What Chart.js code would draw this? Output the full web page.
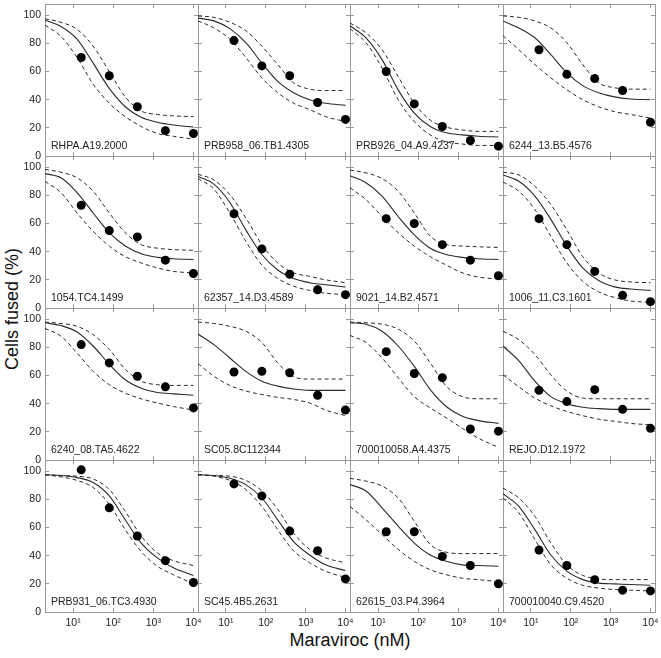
<!DOCTYPE html>
<html>
<head>
<meta charset="utf-8">
<script src="https://cdn.jsdelivr.net/npm/chart.js@4.4.0/dist/chart.umd.min.js"></script>
<style>
    body { margin: 0; background: #fff; }
    #wrap { position: relative; width: 661px; height: 658px; overflow: hidden; background: #fff;
            font-family: 'Liberation Sans', Arial, sans-serif; }
    #wrap canvas { position: absolute; }
    .axis-title { position: absolute; font-size: 18px; color: #111; white-space: nowrap; line-height: 1; }
    #ytitle { left: 12px; top: 309px; transform: translate(-50%, -50%) rotate(-90deg); }
    #xtitle { left: 350px; top: 640px; transform: translate(-50%, -50%); }
</style>
</head>
<body>
<div id="wrap">
    <div class="axis-title" id="ytitle">Cells fused (%)</div>
    <div class="axis-title" id="xtitle">Maraviroc (nM)</div>
</div>
<script>
// doses tested (nM) and the x positions the fitted curves were read at
const doses = [16, 80, 400, 2000, 10000]
const curveX = [2, 5, 12.6, 31.7, 80, 200, 500, 1260, 3170, 10000]

const xTicks = [10, 100, 1000, 10000]
const xTickLabels = ['10\u00b9', '10\u00b2', '10\u00b3', '10\u2074']
const yTicks = [0, 20, 40, 60, 80, 100]

const panelNames = [
    'RHPA.A19.2000', 'PRB958_06.TB1.4305', 'PRB926_04.A9.4237', '6244_13.B5.4576',
    '1054.TC4.1499', '62357_14.D3.4589', '9021_14.B2.4571', '1006_11.C3.1601',
    '6240_08.TA5.4622', 'SC05.8C112344', '700010058.A4.4375', 'REJO.D12.1972',
    'PRB931_06.TC3.4930', 'SC45.4B5.2631', '62615_03.P4.3964', '700010040.C9.4520'
]

// measured % cells fused at each dose
const observed = [
    [70, 57, 35, 18, 16],
    [82, 64, 57, 38, 26],
    [60, 37, 21, 11, 7],
    [75.5, 58, 55, 46.5, 24],
    [73, 55, 50.5, 34, 24.5],
    [67, 42, 24, 13, 9.5],
    [63.5, 60, 45, 34, 23],
    [63.5, 45, 26, 9, 4.5],
    [82, 69, 59.5, 52, 37],
    [62.5, 63, 62, 46, 35.5],
    [77, 61.5, 58.5, 22, 20.5],
    [49.5, 41.5, 50, 36, 22.5],
    [101, 74, 54, 36.5, 21],
    [91, 82.5, 57.5, 43.5, 23.5],
    [57, 57, 39.5, 33, 20],
    [44, 33, 23, 15.5, 15]
]

// fitted curve (solid)
const fitMid = [
    [96.5, 92, 83, 66, 48, 35, 27.5, 24, 22, 20.5],
    [98, 96, 90.5, 80.5, 66, 53, 45, 40, 37.5, 36],
    [92.5, 84, 68.5, 47, 30.5, 21, 16.5, 15, 14, 13.5],
    [96, 91, 84, 72, 59, 50, 45, 42, 40.5, 40],
    [95.5, 92.5, 82, 67.5, 53.5, 44, 38.5, 36, 35, 34.5],
    [93.5, 88, 75, 55.5, 38, 27, 21, 18, 16.5, 15],
    [94, 89, 79.5, 65, 52, 42.5, 38, 36, 35, 34.5],
    [94.5, 90, 79.5, 63, 44, 28.5, 19.5, 15, 13.5, 12.5],
    [97.5, 95.5, 91, 81, 68, 57, 51, 48, 47, 46],
    [89.5, 82, 72.5, 63, 56, 52.5, 50.5, 49.5, 49.5, 49.5],
    [97.5, 96.5, 91.5, 81, 66.5, 50, 38, 31, 28, 26],
    [81, 70.5, 56, 45, 40, 37.5, 36.5, 36, 36, 36],
    [97.5, 97, 95.5, 92, 82.5, 65.5, 49, 38.5, 31.5, 26],
    [97.5, 97, 95, 90.5, 81, 65.5, 50, 40.5, 33.5, 29.5],
    [90.5, 86, 74, 61, 49, 40.5, 36, 33.5, 33, 32.5],
    [84, 75, 58.5, 40.5, 29, 23, 20.5, 20, 19.5, 19]
]

// upper confidence band (dashed)
const fitUpper = [
    [97.5, 95, 90, 78, 60, 42, 32, 29.5, 28.5, 28],
    [99.5, 98.5, 95, 89, 78, 65, 52, 47.5, 46.5, 46.5],
    [94.5, 87.5, 75.5, 56.5, 37.5, 25.5, 20.5, 18.5, 17.5, 17.5],
    [99.5, 98.5, 96, 91, 80.5, 65, 52, 48.5, 47.5, 47.5],
    [98.5, 96.5, 92.5, 83, 67.5, 53.5, 45, 42.5, 41.5, 41],
    [95, 91, 80.5, 64, 45, 32, 25, 22.5, 20, 18],
    [98, 96, 92, 83, 67.5, 51, 45, 44, 43.5, 43],
    [96.5, 94.5, 86.5, 73.5, 55.5, 36.5, 25, 20, 18.5, 18],
    [98, 97, 95, 89, 78.5, 64.5, 56, 53.5, 53, 53],
    [98, 97, 95, 91.5, 83.5, 69, 59, 57.5, 57.5, 57.5],
    [98, 97.5, 96.5, 93, 84.5, 69, 52.5, 45, 43.5, 43.5],
    [91.5, 85.5, 75, 60.5, 49, 44, 43.5, 43.5, 43.5, 43.5],
    [97.5, 97, 96.5, 94.5, 87, 71.5, 54, 42, 36.5, 33],
    [97.5, 97, 96.5, 93.5, 86, 73, 56, 44.5, 38.5, 35],
    [95, 93, 89.5, 81, 64.5, 48, 42.5, 41.5, 41.5, 41.5],
    [88, 81, 68, 49, 33.5, 26, 23.5, 23, 23, 23]
]

// lower confidence band (dashed)
const fitLower = [
    [93, 85, 70, 51, 37.5, 28, 21, 16, 14, 12],
    [96, 91, 83, 70, 55.5, 45, 37.5, 33, 28, 24.5],
    [90.5, 80.5, 62.5, 40, 24.5, 15, 10, 8.5, 7.5, 7.5],
    [85.5, 75.5, 65, 55.5, 47, 40, 35, 31.5, 29.5, 27],
    [90, 82, 67.5, 54.5, 44, 36.5, 32, 28.5, 26, 25],
    [92, 84.5, 67.5, 47.5, 30.5, 21, 15.5, 12.5, 10.5, 9.5],
    [85.5, 77, 65, 53.5, 44, 36.5, 30.5, 25, 22, 20.5],
    [89.5, 83, 70, 51, 32, 19, 11.5, 7.5, 5, 4],
    [93.5, 88, 76, 63, 53.5, 47.5, 43.5, 40.5, 38, 35.5],
    [68.5, 59.5, 53, 49, 46.5, 44.5, 43, 40.5, 35.5, 31.5],
    [88.5, 83.5, 72.5, 58.5, 45, 37, 30, 22.5, 15.5, 9],
    [60.5, 52, 44, 38.5, 34.5, 31.5, 29, 27.5, 26, 25],
    [97.5, 96, 93.5, 88.5, 76.5, 58.5, 43, 32.5, 26.5, 20],
    [97.5, 96.5, 93.5, 87, 75, 58.5, 43.5, 35, 29, 24.5],
    [75, 65.5, 55, 44.5, 36, 30, 26.5, 24, 23, 21.5],
    [81, 70.5, 51.5, 33.5, 24, 19, 17, 16, 15.5, 15]
]

// page layout of the 4x4 grid
const colEdges = [45, 198, 350, 503, 655]
const rowEdges = [4, 156, 308, 460, 612]
const frameColor = '#999'
const tickFont = { family: "'Liberation Sans', Arial, sans-serif", size: 10.5 }

const panelLabel = {
    id: 'panelLabel',
    afterDatasetsDraw(chart, args, opts) {
        const { ctx, chartArea } = chart
        ctx.save()
        ctx.font = "10.5px 'Liberation Sans', Arial, sans-serif"
        ctx.fillStyle = '#222'
        ctx.textAlign = 'left'
        ctx.textBaseline = 'alphabetic'
        ctx.fillText(opts.text, chartArea.left + 6, chartArea.bottom - 7)
        ctx.restore()
    }
}

function edgeGrid() {
    return { display: true, drawOnChartArea: false, drawTicks: true, tickLength: -4, color: frameColor }
}

// pin an axis to a fixed thickness and drop the label overhang padding
function fixSize(size, horizontal) {
    return s => {
        if (horizontal) s.height = size
        else s.width = size
        s.paddingTop = 0
        s.paddingBottom = 0
        s.paddingLeft = 0
        s.paddingRight = 0
    }
}

function curve(values, dashed, width) {
    return {
        data: curveX.map((x, k) => ({ x: x, y: values[k] })),
        showLine: true,
        pointRadius: 0,
        borderColor: '#2a2a2a',
        borderWidth: width,
        borderDash: dashed ? [4, 3] : [],
        cubicInterpolationMode: 'monotone',
        fill: false
    }
}

function makePanel(i) {
    const r = Math.floor(i / 4)
    const c = i % 4
    const left = colEdges[c], right = colEdges[c + 1]
    const top = rowEdges[r], bottom = rowEdges[r + 1]
    const padL = c === 0 ? 45 : 6
    const padR = 6
    const padT = 6
    const padB = r === 3 ? 28 : 6

    const canvas = document.createElement('canvas')
    canvas.width = right - left + padL + padR
    canvas.height = bottom - top + padT + padB
    canvas.style.left = (left - padL) + 'px'
    canvas.style.top = (top - padT) + 'px'
    document.getElementById('wrap').appendChild(canvas)

    const xRange = { type: 'logarithmic', min: 2, max: 13000,
                     afterBuildTicks: s => { s.ticks = xTicks.map(v => ({ value: v })) } }
    const yRange = { type: 'linear', min: 0, max: 108,
                     afterBuildTicks: s => { s.ticks = yTicks.map(v => ({ value: v })) } }

    new Chart(canvas.getContext('2d'), {
        type: 'scatter',
        data: {
            datasets: [
                {
                    data: doses.map((d, k) => ({ x: d, y: observed[i][k] })),
                    pointRadius: 4.5,
                    pointBackgroundColor: '#000',
                    pointBorderColor: '#000',
                    pointBorderWidth: 0,
                    clip: false
                },
                curve(fitMid[i], false, 1.1),
                curve(fitUpper[i], true, 1),
                curve(fitLower[i], true, 1)
            ]
        },
        options: {
            responsive: false,
            animation: false,
            devicePixelRatio: 1,
            layout: { padding: 0, autoPadding: false },
            plugins: {
                legend: { display: false },
                tooltip: { enabled: false },
                panelLabel: { text: panelNames[i] }
            },
            scales: {
                x: Object.assign({}, xRange, {
                    position: 'bottom',
                    grid: edgeGrid(),
                    border: { display: true, color: frameColor, width: 1 },
                    ticks: {
                        display: r === 3, padding: 9, color: '#222', font: tickFont,
                        maxRotation: 0, autoSkip: false,
                        callback: (v, idx) => xTickLabels[idx]
                    },
                    afterFit: fixSize(padB, true)
                }),
                xTop: Object.assign({}, xRange, {
                    position: 'top',
                    grid: edgeGrid(),
                    border: { display: true, color: frameColor, width: 1 },
                    ticks: { display: false },
                    afterFit: fixSize(padT, true)
                }),
                y: Object.assign({}, yRange, {
                    position: 'left',
                    grid: edgeGrid(),
                    border: { display: true, color: frameColor, width: 1 },
                    ticks: {
                        display: c === 0, padding: 8, color: '#222', font: tickFont,
                        autoSkip: false,
                        callback: v => String(v)
                    },
                    afterFit: fixSize(padL, false)
                }),
                yRight: Object.assign({}, yRange, {
                    position: 'right',
                    grid: edgeGrid(),
                    border: { display: true, color: frameColor, width: 1 },
                    ticks: { display: false },
                    afterFit: fixSize(padR, false)
                })
            }
        },
        plugins: [panelLabel]
    })
}

for (let i = 0; i < panelNames.length; i++) {
    makePanel(i)
}
</script>
</body>
</html>
